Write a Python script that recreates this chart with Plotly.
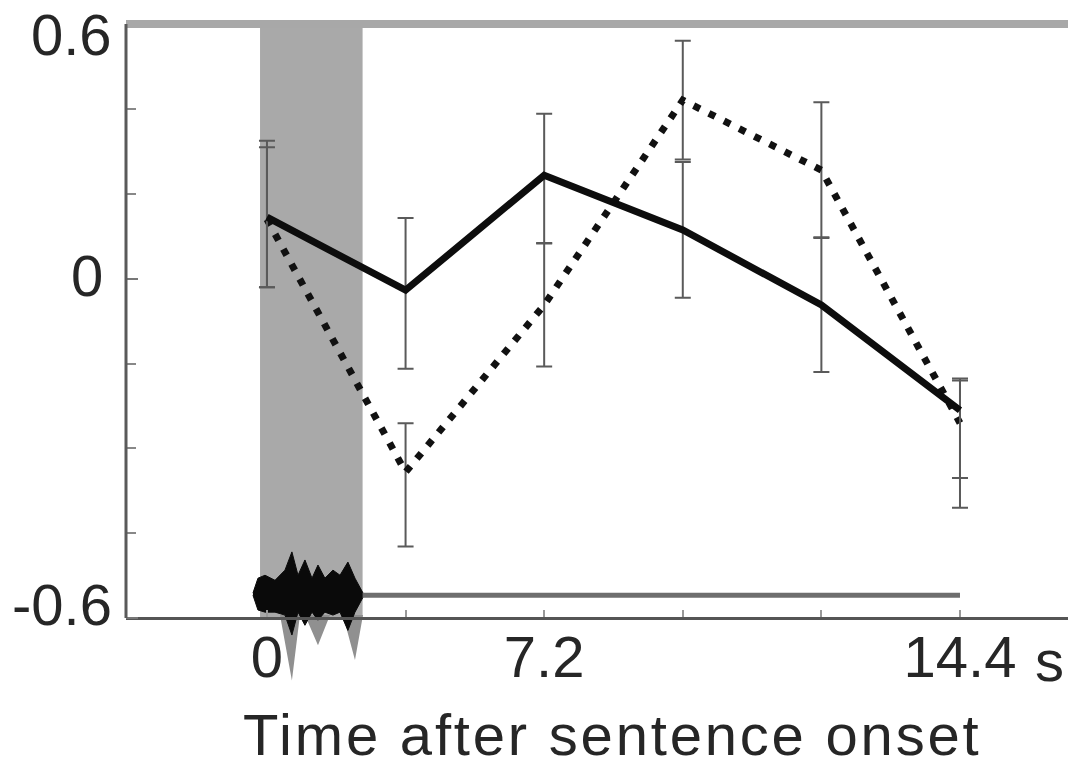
import plotly.graph_objects as go

# ---------------- data ----------------
scan = [0, 1, 2, 3, 4, 5]                      # sample index after sentence onset
solid_vals = [0.145, -0.027, 0.244, 0.115, -0.062, -0.310]
solid_plus = [0.180, 0.170, 0.145, 0.160, 0.160, 0.075]
solid_minus = [0.165, 0.185, 0.160, 0.160, 0.158, 0.160]
dotted_vals = [0.140, -0.456, -0.062, 0.421, 0.256, -0.340]
dotted_plus = [0.170, 0.115, 0.145, 0.140, 0.160, 0.100]
dotted_minus = [0.160, 0.175, 0.145, 0.140, 0.160, 0.200]

x_tick_pos = [0, 2, 5]
x_tick_text = ["0", "7.2", "14.4"]
x_minor_pos = [1, 3, 4]
y_tick_pos = [0.6, 0.0, -0.8]
y_tick_text = ["0.6", "0", "-0.6"]
y_minor_pos = [0.4, 0.2, -0.2, -0.4, -0.6]

# sentence (stimulus) period and its waveform
stim_start, stim_end = -0.05, 0.69
wave_x = [-0.101, -0.065, -0.014, 0.058, 0.130, 0.180, 0.224, 0.274, 0.325,
          0.368, 0.418, 0.476, 0.527, 0.584, 0.635, 0.693]
wave_hi = [-0.741, -0.706, -0.699, -0.711, -0.687, -0.644, -0.699, -0.663, -0.706,
           -0.675, -0.706, -0.687, -0.699, -0.668, -0.706, -0.741]
wave_lo = [-0.746, -0.781, -0.786, -0.786, -0.793, -0.840, -0.786, -0.817, -0.786,
           -0.805, -0.786, -0.793, -0.786, -0.829, -0.786, -0.751]
tail_x = [0.094, 0.180, 0.238, 0.274, 0.368, 0.455, 0.548, 0.635, 0.693]
tail_y = [-0.793, -0.947, -0.793, -0.793, -0.864, -0.793, -0.793, -0.899, -0.793]
timeline_level = -0.746

y_top, y_bottom, y_lo = 0.6, -0.8, -1.045
y_hi = 0.6005
x_lo, x_hi = -1.017, 5.837

# label nudges (px) to sit the y labels where the reference prints them
y_label_xshift = [-12, -21, -12]
y_label_yshift = [-10, 3, 14]

font_family = "Liberation Sans, Arial, Helvetica, sans-serif"
ink = "#262626"

fig = go.Figure()

# waveform tails (gray) and body (black)
fig.add_trace(go.Scatter(x=tail_x + [tail_x[0]], y=tail_y + [tail_y[0]], mode="lines",
                         fill="toself", fillcolor="#909090", line=dict(width=0),
                         hoverinfo="skip"))
fig.add_trace(go.Scatter(x=wave_x + wave_x[::-1], y=wave_hi + wave_lo[::-1], mode="lines",
                         fill="toself", fillcolor="#0a0a0a",
                         line=dict(width=1, color="#0a0a0a"), hoverinfo="skip"))
# timeline after the sentence
fig.add_trace(go.Scatter(x=[stim_end, scan[-1]], y=[timeline_level, timeline_level],
                         mode="lines", line=dict(color="#6e6e6e", width=5),
                         hoverinfo="skip"))

err_style = dict(type="data", symmetric=False, color="#5a5a5a", thickness=2, width=8)

fig.add_trace(go.Scatter(x=scan, y=dotted_vals, mode="lines",
                         line=dict(color="#111111", width=7, dash="7px,10px"),
                         error_y=dict(array=dotted_plus, arrayminus=dotted_minus, **err_style)))
fig.add_trace(go.Scatter(x=scan, y=solid_vals, mode="lines",
                         line=dict(color="#0d0d0d", width=7),
                         error_y=dict(array=solid_plus, arrayminus=solid_minus, **err_style)))

axis_pos = (y_bottom - y_lo) / (y_hi - y_lo)

annotations = [
    dict(text=txt, xref="paper", yref="y", x=0, y=val, xanchor="right", yanchor="middle",
         xshift=dx, yshift=dy, showarrow=False,
         font=dict(size=58, color=ink, family=font_family))
    for txt, val, dx, dy in zip(y_tick_text, y_tick_pos, y_label_xshift, y_label_yshift)
]
annotations += [
    dict(text='<span style="letter-spacing:2.8px">Time after sentence onset</span>',
         xref="paper", yref="paper",
         x=0.5116, y=-0.0185, xanchor="center", yanchor="middle", showarrow=False,
         font=dict(size=58, color=ink, family=font_family)),
    dict(text="s", xref="paper", yref="paper", x=0.9726, y=0.0888,
         xanchor="center", yanchor="middle", showarrow=False,
         font=dict(size=58, color=ink, family=font_family)),
]

# the page body adds an 8px offset; the figure is sized to fill the rest of the window
fig.update_layout(
    width=1068, height=754,
    margin=dict(l=118, r=0, t=16, b=40),
    paper_bgcolor="white", plot_bgcolor="white",
    showlegend=False,
    font=dict(family=font_family, size=58, color=ink),
    xaxis=dict(range=[x_lo, x_hi], anchor="free", position=axis_pos,
               showline=True, linecolor="#555555", linewidth=3,
               showgrid=False, zeroline=False,
               ticks="inside", tickvals=x_tick_pos, ticktext=x_tick_text,
               ticklen=7, tickwidth=2, tickcolor="#999999",
               minor=dict(tickmode="array", tickvals=x_minor_pos, ticks="inside",
                          ticklen=7, tickwidth=2, tickcolor="#999999"),
               tickfont=dict(size=58, color=ink), ticklabelstandoff=-13),
    yaxis=dict(range=[y_lo, y_hi], showline=False, showgrid=False, zeroline=False,
               ticks="inside", tickvals=y_tick_pos, showticklabels=False,
               ticklen=12, tickwidth=2, tickcolor="#777777",
               minor=dict(tickmode="array", tickvals=y_minor_pos, ticks="inside",
                          ticklen=10, tickwidth=2, tickcolor="#888888")),
    shapes=[
        dict(type="rect", xref="x", yref="y", x0=stim_start, x1=stim_end,
             y0=y_bottom, y1=y_top, fillcolor="#a9a9a9", line=dict(width=0), layer="below"),
        dict(type="line", xref="paper", yref="paper", x0=0, x1=1, y0=1, y1=1,
             line=dict(color="#a8a8a8", width=8)),
        dict(type="line", xref="paper", yref="paper", x0=0, x1=0, y0=axis_pos, y1=1,
             line=dict(color="#5a5a5a", width=3)),
    ],
    annotations=annotations,
)

fig.write_html("out.html")
